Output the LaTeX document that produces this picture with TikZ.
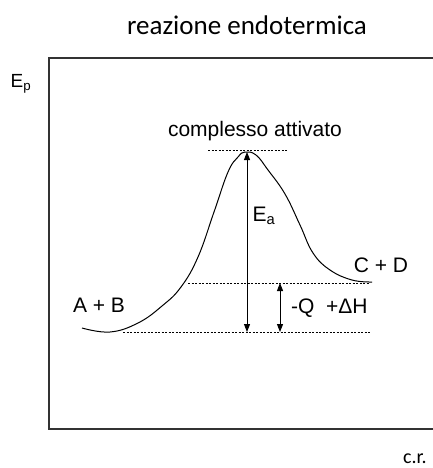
\documentclass[tikz,border=0pt]{standalone}
\usepackage{fontspec}
\setmainfont{Liberation Sans}
\newfontfamily\calib{Carlito}
\usetikzlibrary{arrows.meta}
\begin{document}
\begin{tikzpicture}[x=1pt,y=-1pt,
  lbl/.style={inner sep=0pt,font=\fontsize{21}{23}\selectfont},
  guide/.style={line width=0.8pt,dash pattern=on 2pt off 1.5pt},
  dim/.style={line width=1pt,{Triangle[length=8pt,width=6pt]}-{Triangle[length=8pt,width=6pt]}},
  frame/.style={line width=1.5pt,draw=black!80}]
\useasboundingbox (0,0) rectangle (432,468);
% frame
\draw[frame] (440,58) -- (49,58) -- (49,429) -- (440,429);
% title and axes
\node[inner sep=0pt,font=\calib\fontsize{27}{29}\selectfont] (title) at (247,25) {reazione endotermica};
\node[inner sep=0pt,font=\fontsize{19}{21}\selectfont] (ep) at (21,84) {E\textsubscript{p}};
\node[inner sep=0pt,font=\calib\fontsize{20}{22}\selectfont] (cr) at (415,459) {c.r.};
% guides
\coordinate (top1) at (208,150); \coordinate (top2) at (288,150);
\coordinate (pr1) at (188,283); \coordinate (pr2) at (370,283);
\coordinate (re1) at (123,332); \coordinate (re2) at (370,332);
\draw[guide] (top1) -- (top2);
\draw[guide] (pr1) -- (pr2);
\draw[guide] (re1) -- (re2);
% curve
\draw[line width=1pt] plot[smooth,tension=0.7] coordinates {(82,328) (110,332) (138,323) (162,306) (181,287) (198,257) (214,212) (228,172) (238,157) (245,152) (256,155) (268,170) (285,194) (300,225) (313,253) (330,270) (352,280) (372,282)};
% arrows
\coordinate (eaT) at (247,152); \coordinate (eaB) at (247,332);
\coordinate (dhT) at (280,283); \coordinate (dhB) at (280,332);
\draw[dim] (eaT) -- (eaB);
\draw[dim] (dhT) -- (dhB);
% labels
\node[lbl,font=\fontsize{21}{23}\selectfont] (ca) at (255,131) {complesso attivato};
\node[lbl] (ea) at (264,216) {E\textsubscript{a}};
\node[lbl] (cd) at (381,265) {C + D};
\node[lbl] (ab) at (99,305) {A + B};
\node[lbl,anchor=west] (dh) at (291,308) {-Q\ \ +ΔH};
\end{tikzpicture}
\end{document}
